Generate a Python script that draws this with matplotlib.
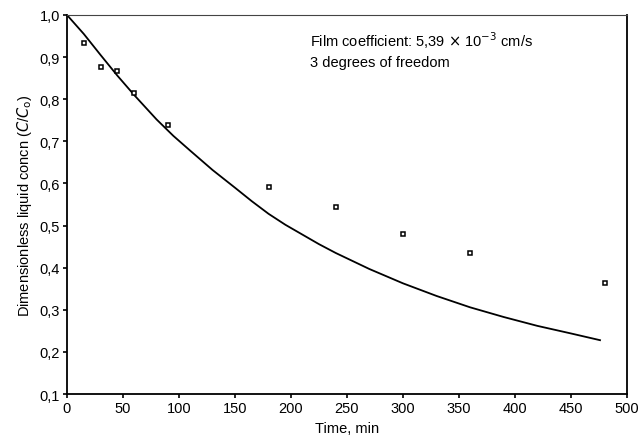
import numpy as np
import matplotlib.pyplot as plt

# measured points
time_data = [15, 30, 45, 60, 90, 180, 240, 300, 360, 480]
conc_data = [0.934, 0.877, 0.866, 0.814, 0.740, 0.592, 0.543, 0.481, 0.434, 0.363]

# model curve
time_fit = [0, 15, 30, 45, 60, 80, 95, 110, 130, 150, 165, 180, 195, 210, 225, 240,
            270, 300, 330, 360, 390, 420, 450, 476]
conc_fit = [1.0, 0.955, 0.905, 0.856, 0.810, 0.752, 0.713, 0.678, 0.632, 0.590, 0.558,
            0.528, 0.502, 0.479, 0.456, 0.435, 0.397, 0.363, 0.333, 0.306, 0.283,
            0.262, 0.244, 0.228]

x_ticks = [0, 50, 100, 150, 200, 250, 300, 350, 400, 450, 500]
y_ticks = [0.1, 0.2, 0.3, 0.4, 0.5, 0.6, 0.7, 0.8, 0.9, 1.0]

plt.rcParams['font.family'] = ['Liberation Sans', 'DejaVu Sans']

fig = plt.figure(figsize=(6.41, 4.39), dpi=100)
ax = fig.add_axes([0.1045, 0.100, 0.8735, 0.8636])

ax.plot(time_fit, conc_fit, color='black', lw=1.3)
ax.plot(time_data, conc_data, linestyle='none', marker='s', markersize=3.5,
        markerfacecolor='white', markeredgecolor='black', markeredgewidth=1.1)

ax.set_xlim(0, 500)
ax.set_ylim(0.1, 1.0)
ax.set_xticks(x_ticks)
ax.set_yticks(y_ticks)
ax.set_xticklabels([str(v) for v in x_ticks])
ax.set_yticklabels([f'{v:.1f}'.replace('.', ',') for v in y_ticks])
ax.tick_params(axis='both', direction='out', length=3, width=1.2, labelsize=10.5, pad=2)

for side in ['left', 'bottom', 'right', 'top']:
    ax.spines[side].set_linewidth(1.3)
ax.spines['top'].set_linewidth(0.8)
ax.spines['top'].set_color('#444444')

ax.set_xlabel('Time, min', fontsize=10.5, labelpad=4)
ax.set_ylabel(r'Dimensionless liquid concn ($C$/$C_\mathrm{o}$)', fontsize=10.5, labelpad=4)

ax.text(0.434, 0.962, 'Film coefficient: 5,39 $\\times$ 10$^{-3}$ cm/s\n3 degrees of freedom',
        transform=ax.transAxes, fontsize=10.5, va='top', ha='left', linespacing=1.45)

fig.savefig('out.png', dpi=100)
